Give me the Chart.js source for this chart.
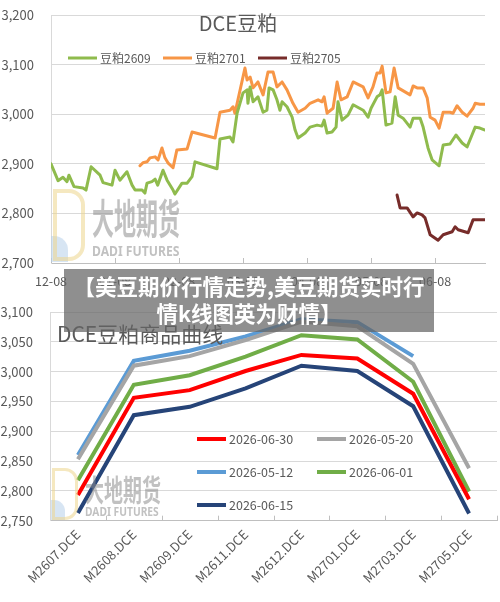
<!DOCTYPE html>
<html>
<head>
<meta charset="utf-8">
<script src="https://cdn.jsdelivr.net/npm/chart.js@4.4.1/dist/chart.umd.min.js"></script>
<style>
    html, body { margin: 0; padding: 0; background: #fff; }
    #wrap { position: relative; width: 500px; height: 602px; overflow: hidden; font-family: "Noto Sans CJK SC", "Noto Sans", sans-serif; }
    canvas { position: absolute; left: 0; }
    #topChart { top: 0; }
    #curveChart { top: 292px; }
    .wm { position: absolute; opacity: 0.55; pointer-events: none; }
    .wm-text { position: absolute; color: #8f8f8f; font-weight: bold; white-space: nowrap; transform-origin: 0 0; line-height: 1; }
    .banner {
        position: absolute; left: 64px; top: 269px; width: 370px; height: 63px;
        background: rgba(100, 100, 100, 0.72); color: #fff; font-weight: bold;
        font-size: 21.5px; line-height: 27px; text-align: center;
        padding-top: 3px; box-sizing: border-box; white-space: nowrap;
    }
</style>
</head>
<body>
<div id="wrap">
    <canvas id="topChart" width="500" height="292"></canvas>
    <canvas id="curveChart" width="500" height="310"></canvas>

    <!-- watermark, top chart -->
    <div class="wm" style="left:51px;top:236px;width:17px;height:26px;background:#b6d0ea;border-radius:0 14px 0 0;"></div>
    <div class="wm" style="left:53px;top:189px;width:24px;height:64px;border:4px solid #ecd68c;border-radius:0 16px 16px 0;"></div>
    <div class="wm wm-text" style="left:92px;top:195px;font-size:22px;transform:scale(1,1.85);">大地期货</div>
    <div class="wm wm-text" style="left:92px;top:243px;font-size:16px;font-family:'Noto Sans',sans-serif;transform:scale(0.76,0.9);">DADI FUTURES</div>

    <!-- watermark, bottom chart -->
    <div class="wm" style="left:51px;top:500px;width:14px;height:20px;background:#b6d0ea;border-radius:0 11px 0 0;"></div>
    <div class="wm" style="left:52px;top:468px;width:20px;height:46px;border:3px solid #ecd68c;border-radius:0 13px 13px 0;"></div>
    <div class="wm wm-text" style="left:85px;top:473px;font-size:19px;transform:scale(1,1.55);">大地期货</div>
    <div class="wm wm-text" style="left:85px;top:506px;font-size:13.5px;font-family:'Noto Sans',sans-serif;transform:scale(0.76,0.9);">DADI FUTURES</div>

    <div class="banner">【美豆期价行情走势,美豆期货实时行<br>情k线图英为财情】</div>
</div>

<script>
// ---- top chart: DCE 豆粕 daily closes (x = days from 12-08, 30 per month) ----
const topTitle = 'DCE豆粕';
const monthTicks = [0, 30, 60, 90, 120, 150, 180];
const monthLabels = ['12-08', '01-08', '02-08', '03-08', '04-08', '05-08', '06-08'];

const days2609 = [0, 3.3, 5.6, 7.5, 8.4, 10.8, 15, 16.4, 18.8, 23, 24.4, 28.6, 30, 32.3, 35.6,
    38, 39.4, 42.7, 44, 45, 47.3, 48.8, 50, 52.5, 54.4, 57.2, 58.1, 61.4, 63.8, 66.1,
    67.5, 77.8, 79.2, 83.9, 85.3, 87.2, 90, 91.9, 92.3, 93.3, 94.7, 97, 99.4, 101.2, 102.2,
    104.1, 105.9, 107.3, 108.3, 110.6, 113, 114.4, 115.8, 119.1, 121.4, 124.7, 127, 128, 129.4, 131.7,
    133.6, 134.5, 136.4, 139.2, 141.6, 146.3, 148.6, 150, 152.8, 154.2, 155.2, 157, 159.8, 161.3, 162.7,
    165, 168.3, 169.7, 173, 174.4, 176.7, 178.6, 181.9, 183.8, 187, 189.8, 192.7, 195, 197.3, 198.8,
    201, 203.4];
const vals2609 = [2900, 2866, 2873, 2864, 2877, 2854, 2851, 2847, 2894, 2877, 2862, 2857, 2887, 2867, 2884,
    2857, 2847, 2847, 2841, 2861, 2864, 2869, 2857, 2887, 2867, 2847, 2839, 2861, 2861, 2874,
    2904, 2890, 2950, 2954, 2944, 3002, 3043, 3049, 3022, 3055, 3025, 3035, 3004, 3008, 3053,
    3049, 3029, 3008, 3025, 3015, 2994, 2968, 2952, 2962, 2974, 2978, 2976, 2988, 2962, 2964,
    2974, 3025, 2988, 2998, 3019, 3008, 2994, 3012, 3035, 3039, 3049, 2978, 2982, 3035, 2998,
    2992, 2974, 2992, 2992, 2974, 2932, 2908, 2896, 2938, 2940, 2958, 2942, 2934, 2958, 2974,
    2972, 2968];

const days2701 = [41.7, 43.1, 45, 46.4, 48.8, 50.2, 52, 53.4, 54.8, 57.2, 59, 63.8, 66.1, 76.9, 79.2,
    83.9, 85.3, 86.2, 90.9, 91.9, 93.3, 94.7, 97, 99.4, 101.7, 104.1, 105.9, 108.3, 110.6, 113.4,
    115.8, 119.1, 121.4, 125.2, 127, 128, 129.4, 132.2, 134.1, 135.9, 138.8, 141.6, 146.3, 148.6, 150.9,
    152.8, 154.2, 155.2, 157, 158.9, 160.8, 162.7, 165.9, 168.3, 169.7, 171.6, 174.4, 176.3, 177.7, 180,
    181.9, 183.8, 187, 188.4, 190.3, 192.7, 195, 197.8, 198.8, 201, 203.4];
const vals2701 = [2896, 2902, 2904, 2912, 2914, 2908, 2932, 2912, 2902, 2892, 2928, 2930, 2964, 2952, 3004,
    3008, 3015, 3002, 3093, 3069, 3075, 3053, 3065, 3039, 3085, 3085, 3055, 3065, 3049, 3022,
    3004, 3012, 3022, 3029, 3025, 3035, 3002, 3012, 3065, 3029, 3035, 3065, 3055, 3033, 3055,
    3083, 3083, 3097, 3043, 3045, 3093, 3053, 3045, 3039, 3057, 3053, 3053, 3033, 2994, 2988,
    2972, 3004, 3004, 3002, 3017, 3004, 2996, 3012, 3022, 3020, 3020];

const days2705 = [162.2, 163.6, 166.9, 169.7, 171.6, 173.9, 175.3, 177.7, 181.4, 183.8, 188, 189.4, 190.8, 195.5, 197.8, 203.4];
const vals2705 = [2837, 2811, 2811, 2793, 2801, 2797, 2791, 2757, 2746, 2757, 2763, 2773, 2767, 2761, 2787, 2787];

// ---- bottom chart: forward curve by contract ----
const curveTitle = 'DCE豆粕商品曲线';
const contracts = ['M2607.DCE', 'M2608.DCE', 'M2609.DCE', 'M2611.DCE', 'M2612.DCE', 'M2701.DCE', 'M2703.DCE', 'M2705.DCE'];
const curve0630 = [2793, 2956, 2969, 3001, 3028, 3022, 2963, 2786];
const curve0520 = [2853, 3010, 3026, 3053, 3084, 3076, 3013, 2838];
const curve0512 = [2860, 3018, 3035, 3059, 3088, 3083, 3026, null];
const curve0601 = [2818, 2978, 2994, 3025, 3061, 3054, 2983, 2799];
const curve0615 = [2763, 2927, 2941, 2972, 3010, 3001, 2942, 2762];

Chart.defaults.font.family = '"Noto Sans CJK SC", "Noto Sans", sans-serif';
Chart.defaults.color = '#595959';

const toPoints = (xs, ys) => xs.map((x, i) => ({ x, y: ys[i] }));
const thousands = v => Number(v).toLocaleString('en-US');

// fixed y axis width, no extra label overhang above the plot
const fixedWidth = w => s => { s.width = w; s.paddingTop = 0; s.paddingBottom = 0; };

// inward tick marks on an x axis
function drawInwardTicks(ctx, area, xs) {
    ctx.strokeStyle = '#bfbfbf';
    ctx.lineWidth = 1;
    xs.forEach(px => {
        const x = Math.round(px) + 0.5;
        ctx.beginPath();
        ctx.moveTo(x, area.bottom - 5);
        ctx.lineTo(x, area.bottom);
        ctx.stroke();
    });
}

function drawLegendItem(ctx, x, y, color, width, text) {
    ctx.strokeStyle = color;
    ctx.lineWidth = width;
    ctx.beginPath();
    ctx.moveTo(x, y);
    ctx.lineTo(x + 29, y);
    ctx.stroke();
    ctx.fillStyle = '#595959';
    ctx.fillText(text, x + 32, y);
}

const topDecor = {
    id: 'topDecor',
    afterDraw(chart) {
        const { ctx, chartArea, scales } = chart;
        ctx.save();
        drawInwardTicks(ctx, chartArea, scales.x.ticks.map(t => scales.x.getPixelForValue(t.value)));

        ctx.fillStyle = '#595959';
        ctx.font = '20px "Noto Sans CJK SC"';
        ctx.textAlign = 'center';
        ctx.textBaseline = 'middle';
        ctx.fillText(topTitle, 238, 23);

        ctx.font = '12px "Noto Sans CJK SC"';
        ctx.textAlign = 'left';
        chart.data.datasets.forEach((ds, i) => {
            drawLegendItem(ctx, 68 + i * 95, 58, ds.borderColor, 3, ds.label);
        });
        ctx.restore();
    }
};

const curveDecor = {
    id: 'curveDecor',
    afterDraw(chart) {
        const { ctx, chartArea } = chart;
        ctx.save();
        const n = contracts.length;
        const step = (chartArea.right - chartArea.left) / n;
        const xs = [];
        for (let i = 1; i <= n; i++) xs.push(chartArea.left + i * step);
        drawInwardTicks(ctx, chartArea, xs);

        ctx.fillStyle = '#595959';
        ctx.font = '21px "Noto Sans CJK SC"';
        ctx.textAlign = 'left';
        ctx.textBaseline = 'middle';
        ctx.fillText(curveTitle, 57, 42);

        const slots = [[197, 147], [317, 147], [197, 180], [317, 180], [197, 213]];
        ctx.font = '12.5px "Noto Sans CJK SC"';
        chart.data.datasets.forEach((ds, i) => {
            drawLegendItem(ctx, slots[i][0], slots[i][1], ds.borderColor, 4, ds.label);
        });
        ctx.restore();
    }
};

new Chart(document.getElementById('topChart'), {
    type: 'line',
    data: {
        datasets: [
            { label: '豆粕2609', data: toPoints(days2609, vals2609), borderColor: '#8fbb4d', borderWidth: 3 },
            { label: '豆粕2701', data: toPoints(days2701, vals2701), borderColor: '#f79646', borderWidth: 3 },
            { label: '豆粕2705', data: toPoints(days2705, vals2705), borderColor: '#772c2a', borderWidth: 3 }
        ]
    },
    options: {
        responsive: false,
        animation: false,
        devicePixelRatio: 1,
        layout: { padding: { top: 15, right: 15, left: 0, bottom: 0 } },
        elements: { point: { radius: 0 }, line: { tension: 0, borderJoinStyle: 'round', borderCapStyle: 'round' } },
        plugins: { legend: { display: false }, title: { display: false }, tooltip: { enabled: false } },
        scales: {
            x: {
                type: 'linear',
                min: 0,
                max: 203.4,
                afterBuildTicks: s => { s.ticks = monthTicks.map(v => ({ value: v })); },
                afterFit: s => { s.height = 29; },
                ticks: {
                    autoSkip: false,
                    maxRotation: 0,
                    padding: 11,
                    font: { size: 12.5 },
                    callback: v => monthLabels[monthTicks.indexOf(v)]
                },
                grid: { display: true, drawOnChartArea: false, drawTicks: false },
                border: { color: '#bfbfbf' }
            },
            y: {
                min: 2700,
                max: 3200,
                afterFit: fixedWidth(51),
                ticks: { stepSize: 100, padding: 17, font: { size: 13 }, callback: thousands },
                grid: { color: '#d9d9d9', drawTicks: false },
                border: { color: '#d9d9d9' }
            }
        }
    },
    plugins: [topDecor]
});

new Chart(document.getElementById('curveChart'), {
    type: 'line',
    data: {
        labels: contracts,
        datasets: [
            { label: '2026-06-30', data: curve0630, borderColor: '#ff0000', borderWidth: 4 },
            { label: '2026-05-20', data: curve0520, borderColor: '#a5a5a5', borderWidth: 4 },
            { label: '2026-05-12', data: curve0512, borderColor: '#5b9bd5', borderWidth: 4 },
            { label: '2026-06-01', data: curve0601, borderColor: '#70ad47', borderWidth: 4 },
            { label: '2026-06-15', data: curve0615, borderColor: '#264478', borderWidth: 4 }
        ]
    },
    options: {
        responsive: false,
        animation: false,
        devicePixelRatio: 1,
        layout: { padding: { top: 20, right: 3, left: 0, bottom: 0 } },
        elements: { point: { radius: 0 }, line: { tension: 0 } },
        plugins: { legend: { display: false }, title: { display: false }, tooltip: { enabled: false } },
        scales: {
            x: {
                offset: true,
                afterFit: s => { s.height = 81.3; },
                ticks: { autoSkip: false, minRotation: 45, maxRotation: 45, padding: 6, font: { size: 13 } },
                grid: { display: true, drawOnChartArea: false, drawTicks: false },
                border: { color: '#bfbfbf' }
            },
            y: {
                min: 2750,
                max: 3100,
                afterFit: fixedWidth(50),
                ticks: { stepSize: 50, padding: 17, font: { size: 13 }, callback: thousands },
                grid: { color: '#d9d9d9', drawTicks: false },
                border: { color: '#d9d9d9' }
            }
        }
    },
    plugins: [curveDecor]
});
</script>
</body>
</html>
